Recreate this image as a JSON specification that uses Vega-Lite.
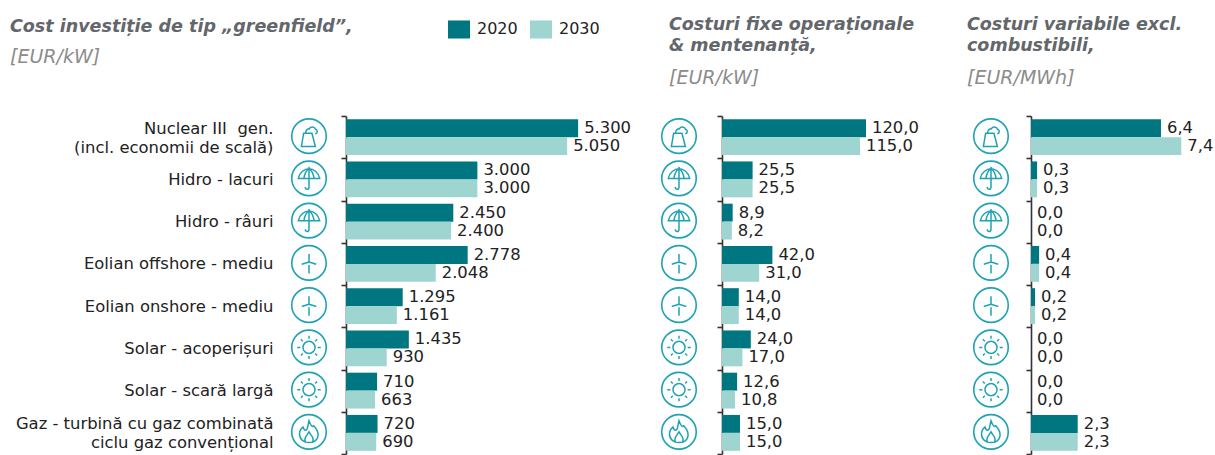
{
"$schema":"https://vega.github.io/schema/vega-lite/v6.json",
"background":"white",
"padding":{"left":10,"top":15,"right":0,"bottom":0},
"autosize":{"type":"pad"},
"bounds":"flush",
"spacing":36,
"config":{
 "view":{"stroke":null},
 "font":"DejaVu Sans",
 "locale":{"number":{"decimal":",","thousands":".","grouping":[3],"currency":["","€"]}},
 "axisY":{"title":null,"domainColor":"#333333","domainWidth":1.6,"tickColor":"#333333","tickWidth":1.6,"tickSize":5,"tickBand":"extent","grid":false,"labelFont":"DejaVu Sans","labelFontSize":16.4,"labelColor":"#222222","labelPadding":68,"labelLimit":400,"labelLineHeight":19},
 "title":{"anchor":"start","frame":"group","font":"DejaVu Sans","fontSize":17.5,"fontWeight":"bold","fontStyle":"italic","color":"#63666a","lineHeight":21,"subtitleFont":"DejaVu Sans","subtitleFontSize":19,"subtitleFontStyle":"italic","subtitleColor":"#8c8c8c","subtitlePadding":15}
},
"datasets":{
 "bars":[
  {"tech":"Nuclear III gen.","year":"2020","investitie":5300,"fixe":120,"variabile":6.4},
  {"tech":"Nuclear III gen.","year":"2030","investitie":5050,"fixe":115,"variabile":7.4},
  {"tech":"Hidro - lacuri","year":"2020","investitie":3000,"fixe":25.5,"variabile":0.3},
  {"tech":"Hidro - lacuri","year":"2030","investitie":3000,"fixe":25.5,"variabile":0.3},
  {"tech":"Hidro - râuri","year":"2020","investitie":2450,"fixe":8.9,"variabile":0},
  {"tech":"Hidro - râuri","year":"2030","investitie":2400,"fixe":8.2,"variabile":0},
  {"tech":"Eolian offshore - mediu","year":"2020","investitie":2778,"fixe":42,"variabile":0.4},
  {"tech":"Eolian offshore - mediu","year":"2030","investitie":2048,"fixe":31,"variabile":0.4},
  {"tech":"Eolian onshore - mediu","year":"2020","investitie":1295,"fixe":14,"variabile":0.2},
  {"tech":"Eolian onshore - mediu","year":"2030","investitie":1161,"fixe":14,"variabile":0.2},
  {"tech":"Solar - acoperișuri","year":"2020","investitie":1435,"fixe":24,"variabile":0},
  {"tech":"Solar - acoperișuri","year":"2030","investitie":930,"fixe":17,"variabile":0},
  {"tech":"Solar - scară largă","year":"2020","investitie":710,"fixe":12.6,"variabile":0},
  {"tech":"Solar - scară largă","year":"2030","investitie":663,"fixe":10.8,"variabile":0},
  {"tech":"Gaz - turbină","year":"2020","investitie":720,"fixe":15,"variabile":2.3},
  {"tech":"Gaz - turbină","year":"2030","investitie":690,"fixe":15,"variabile":2.3}
 ],
 "icons":[
  {"tech":"Nuclear III gen.","icon":"nuclear"},
  {"tech":"Hidro - lacuri","icon":"hidro"},
  {"tech":"Hidro - râuri","icon":"hidro"},
  {"tech":"Eolian offshore - mediu","icon":"eolian"},
  {"tech":"Eolian onshore - mediu","icon":"eolian"},
  {"tech":"Solar - acoperișuri","icon":"solar"},
  {"tech":"Solar - scară largă","icon":"solar"},
  {"tech":"Gaz - turbină","icon":"gaz"}
 ]
},
"hconcat":[
 {
  "width":340,"height":338,
  "title":{"text":"Cost investiție de tip „greenfield”,","subtitle":"[EUR/kW]","dx":-336,"offset":41,"subtitlePadding":13},
  "layer":[
   {"data":{"name":"bars"},"mark":{"type":"bar"},
    "encoding":{
     "y":{"field":"tech","type":"nominal","scale":{"domain":["Nuclear III gen.","Hidro - lacuri","Hidro - râuri","Eolian offshore - mediu","Eolian onshore - mediu","Solar - acoperișuri","Solar - scară largă","Gaz - turbină"],"padding":0},
      "axis":{"labelOffset":{"condition":{"test":"datum.value=='Nuclear III gen.'||datum.value=='Gaz - turbină'","value":-9},"value":0},"labelExpr":"datum.label=='Nuclear III gen.'?['Nuclear III\u2004 gen.\u2004','(incl. economii de scală)']:datum.label=='Gaz - turbină'?['Gaz - turbină cu gaz combinată\u2004','ciclu gaz convențional']:datum.label"}},
     "yOffset":{"field":"year","type":"nominal","scale":{"paddingInner":0,"paddingOuter":0.177}},
     "x":{"field":"investitie","type":"quantitative","scale":{"domain":[0,7763],"nice":false},"axis":null},
     "color":{"field":"year","type":"nominal","scale":{"domain":["2020","2030"],"range":["#007681","#9fd5d0"]},
      "legend":{"orient":"none","legendX":102,"legendY":-98,"direction":"horizontal","title":null,"symbolType":"M-1,-0.82L1,-0.82L1,0.82L-1,0.82Z","symbolSize":484,"symbolStrokeWidth":0,"labelFont":"DejaVu Sans","labelFontSize":16,"labelColor":"#222222","columnPadding":12,"labelOffset":7,"symbolOpacity":1}}
    }},
   {"data":{"name":"bars"},"mark":{"type":"text","align":"left","baseline":"middle","dx":6,"fontSize":16.4,"color":"#222222"},
    "encoding":{
     "y":{"field":"tech","type":"nominal"},
     "yOffset":{"field":"year","type":"nominal"},
     "x":{"field":"investitie","type":"quantitative"},
     "text":{"field":"investitie","type":"quantitative","format":",.0f"}
    }},
   {"data":{"name":"icons"},"mark":{"type":"point","shape":"circle","filled":false,"size":1190,"stroke":"#1fa3b4","strokeWidth":1.6,"opacity":1,"xOffset":-37,"yOffset":-1},
    "encoding":{"y":{"field":"tech","type":"nominal"},"x":{"datum":0}}},
   {"data":{"name":"icons"},"mark":{"type":"point","filled":false,"size":1190,"stroke":"#1fa3b4","strokeWidth":1.5,"opacity":1,"xOffset":-37,"yOffset":-1},
    "encoding":{"y":{"field":"tech","type":"nominal"},"x":{"datum":0},
     "shape":{"field":"icon","type":"nominal","legend":null,"scale":{"domain":["nuclear","hidro","eolian","solar","gaz"],"range":[
      "M-0.44,0.6L0.37,0.6L0.17,-0.17L-0.31,-0.17ZM-0.19,-0.21C-0.19,-0.36 -0.06,-0.44 0.02,-0.42C0.08,-0.56 0.32,-0.56 0.38,-0.4C0.5,-0.36 0.52,-0.18 0.37,-0.12",
      "M-0.62,0C-0.55,-0.35 -0.25,-0.56 0,-0.56C0.25,-0.56 0.55,-0.35 0.62,0ZM-0.3,0C-0.25,-0.25 -0.1,-0.5 0,-0.56C0.1,-0.5 0.25,-0.25 0.3,0M0,-0.68L0,0.5C0,0.68 -0.2,0.68 -0.22,0.5",
      "M0,-0.05L0,-0.52M0,-0.05L-0.42,0.08M0,-0.05L0.42,0.08M0,0.12L0,0.62",
      "M0.35,0C0.35,0.19 0.19,0.35 0,0.35C-0.19,0.35 -0.35,0.19 -0.35,0C-0.35,-0.19 -0.19,-0.35 0,-0.35C0.19,-0.35 0.35,-0.19 0.35,0ZM0,-0.5L0,-0.68M0,0.5L0,0.68M-0.5,0L-0.68,0M0.5,0L0.68,0M-0.36,-0.36L-0.47,-0.47M0.36,-0.36L0.47,-0.47M-0.36,0.36L-0.47,0.47M0.36,0.36L0.47,0.47",
      "M0,-0.65C0.1,-0.35 0.2,-0.25 0.28,-0.35C0.5,-0.1 0.58,0.1 0.5,0.32C0.42,0.55 0.2,0.62 0,0.62C-0.3,0.62 -0.55,0.45 -0.55,0.12C-0.55,-0.05 -0.45,-0.2 -0.35,-0.28C-0.3,-0.1 -0.2,-0.05 -0.12,-0.15C-0.05,-0.3 -0.05,-0.5 0,-0.65ZM-0.2,0.6C-0.35,0.35 -0.1,0.2 0,0C0.1,0.2 0.35,0.35 0.2,0.6"
     ]}}}}
  ]
 },
 {
  "width":273,"height":338,
  "title":{"text":["Costuri fixe operaționale","& mentenanță,"],"subtitle":"[EUR/kW]","dx":-53,"offset":27},
  "layer":[
   {"data":{"name":"bars"},"mark":{"type":"bar"},
    "encoding":{
     "y":{"field":"tech","type":"nominal","scale":{"domain":["Nuclear III gen.","Hidro - lacuri","Hidro - râuri","Eolian offshore - mediu","Eolian onshore - mediu","Solar - acoperișuri","Solar - scară largă","Gaz - turbină"],"padding":0},"axis":{"labels":false}},
     "yOffset":{"field":"year","type":"nominal","scale":{"paddingInner":0,"paddingOuter":0.177}},
     "x":{"field":"fixe","type":"quantitative","scale":{"domain":[0,227.5],"nice":false},"axis":null},
     "color":{"field":"year","type":"nominal"}
    }},
   {"data":{"name":"bars"},"mark":{"type":"text","align":"left","baseline":"middle","dx":6,"fontSize":16.4,"color":"#222222"},
    "encoding":{
     "y":{"field":"tech","type":"nominal"},
     "yOffset":{"field":"year","type":"nominal"},
     "x":{"field":"fixe","type":"quantitative"},
     "text":{"field":"fixe","type":"quantitative","format":".1f"}
    }},
   {"data":{"name":"icons"},"mark":{"type":"point","shape":"circle","filled":false,"size":1190,"stroke":"#1fa3b4","strokeWidth":1.6,"opacity":1,"xOffset":-43,"yOffset":-1},
    "encoding":{"y":{"field":"tech","type":"nominal"},"x":{"datum":0}}},
   {"data":{"name":"icons"},"mark":{"type":"point","filled":false,"size":1190,"stroke":"#1fa3b4","strokeWidth":1.5,"opacity":1,"xOffset":-43,"yOffset":-1},
    "encoding":{"y":{"field":"tech","type":"nominal"},"x":{"datum":0},
     "shape":{"field":"icon","type":"nominal","legend":null}}}
  ]
 },
 {
  "width":184,"height":338,
  "title":{"text":["Costuri variabile excl.","combustibili,"],"subtitle":"[EUR/MWh]","dx":-64,"offset":27},
  "layer":[
   {"data":{"name":"bars"},"mark":{"type":"bar"},
    "encoding":{
     "y":{"field":"tech","type":"nominal","scale":{"domain":["Nuclear III gen.","Hidro - lacuri","Hidro - râuri","Eolian offshore - mediu","Eolian onshore - mediu","Solar - acoperișuri","Solar - scară largă","Gaz - turbină"],"padding":0},"axis":{"labels":false}},
     "yOffset":{"field":"year","type":"nominal","scale":{"paddingInner":0,"paddingOuter":0.177}},
     "x":{"field":"variabile","type":"quantitative","scale":{"domain":[0,9.06],"nice":false},"axis":null},
     "color":{"field":"year","type":"nominal"}
    }},
   {"data":{"name":"bars"},"mark":{"type":"text","align":"left","baseline":"middle","dx":6,"fontSize":16.4,"color":"#222222"},
    "encoding":{
     "y":{"field":"tech","type":"nominal"},
     "yOffset":{"field":"year","type":"nominal"},
     "x":{"field":"variabile","type":"quantitative"},
     "text":{"field":"variabile","type":"quantitative","format":".1f"}
    }},
   {"data":{"name":"icons"},"mark":{"type":"point","shape":"circle","filled":false,"size":1190,"stroke":"#1fa3b4","strokeWidth":1.6,"opacity":1,"xOffset":-40,"yOffset":-1},
    "encoding":{"y":{"field":"tech","type":"nominal"},"x":{"datum":0}}},
   {"data":{"name":"icons"},"mark":{"type":"point","filled":false,"size":1190,"stroke":"#1fa3b4","strokeWidth":1.5,"opacity":1,"xOffset":-40,"yOffset":-1},
    "encoding":{"y":{"field":"tech","type":"nominal"},"x":{"datum":0},
     "shape":{"field":"icon","type":"nominal","legend":null}}}
  ]
 }
]
}
